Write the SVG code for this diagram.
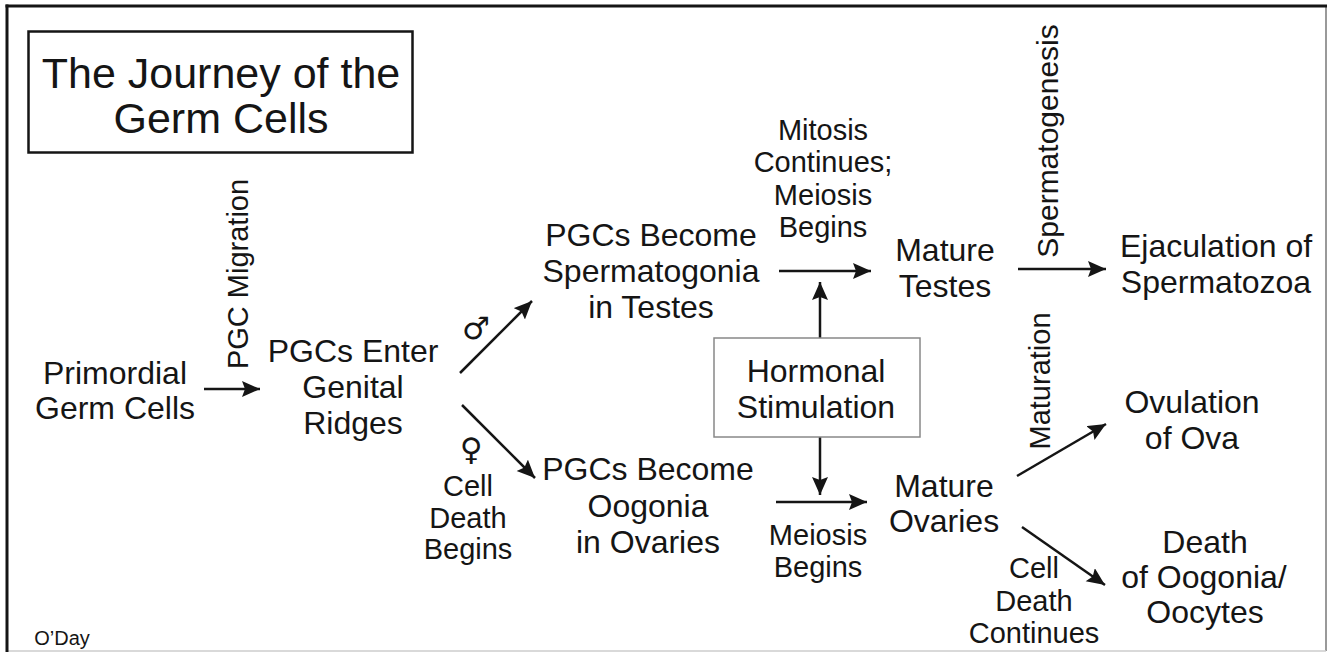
<svg xmlns="http://www.w3.org/2000/svg" width="1329" height="656" viewBox="0 0 1329 656">
<style>
  text { font-family: "Liberation Sans", Arial, sans-serif; fill: #151515; text-anchor: middle; }
  .n { font-size: 32px; }
  .s { font-size: 29px; }
  .v { font-size: 29px; }
  .t { font-size: 43px; }
  .sym { font-family: "DejaVu Sans", sans-serif; font-size: 31px; }
  .c { stroke: #151515; stroke-width: 2.5; fill: none; marker-end: url(#ah); }
</style>
<defs>
  <marker id="ah" markerUnits="userSpaceOnUse" markerWidth="20" markerHeight="18" refX="18" refY="8" orient="auto" viewBox="0 0 20 18">
    <path d="M0,0 L18,8 L0,16 L3,8 z" fill="#151515"/>
  </marker>
</defs>
<rect x="0" y="0" width="1329" height="656" fill="#ffffff"/>
<g id="frame">
  <line x1="1326" y1="6" x2="1326" y2="651" stroke="#777" stroke-width="1.5"/>
  <line x1="7" y1="651" x2="1326" y2="651" stroke="#ccc" stroke-width="1.5"/>
  <line x1="5.5" y1="6" x2="1327" y2="6" stroke="#151515" stroke-width="3"/>
  <line x1="7" y1="4.5" x2="7" y2="652" stroke="#151515" stroke-width="3"/>
</g>
<g id="title">
  <rect x="28.5" y="31.5" width="384" height="121" fill="none" stroke="#151515" stroke-width="2.5"/>
  <text class="t" x="221" y="88">The Journey of the</text>
  <text class="t" x="221" y="133">Germ Cells</text>
</g>
<g id="connectors">
  <line class="c" x1="204" y1="389" x2="260" y2="389"/>
  <line class="c" x1="460" y1="373" x2="532" y2="301"/>
  <line class="c" x1="462" y1="405" x2="535" y2="478"/>
  <line class="c" x1="779" y1="271" x2="871" y2="271"/>
  <line class="c" x1="820" y1="338" x2="820" y2="282"/>
  <line class="c" x1="820" y1="437" x2="820" y2="495"/>
  <line class="c" x1="776" y1="502" x2="867" y2="502"/>
  <line class="c" x1="1018" y1="269" x2="1106" y2="269"/>
  <line class="c" x1="1017" y1="476" x2="1106" y2="424"/>
  <line class="c" x1="1022" y1="527" x2="1105" y2="585"/>
</g>
<g id="labels">
  <text class="v" transform="translate(248,274) rotate(-90)">PGC Migration</text>
  <text class="sym" x="476" y="339">♂</text>
  <text class="sym" x="471" y="460">♀</text>
  <text class="s" x="468" y="496">Cell</text>
  <text class="s" x="468" y="528">Death</text>
  <text class="s" x="468" y="559">Begins</text>
  <text class="s" x="823" y="140">Mitosis</text>
  <text class="s" x="823" y="172">Continues;</text>
  <text class="s" x="823" y="205">Meiosis</text>
  <text class="s" x="823" y="237">Begins</text>
  <text class="s" x="818" y="545">Meiosis</text>
  <text class="s" x="818" y="577">Begins</text>
  <text class="v" transform="translate(1058,141) rotate(-90)" style="font-size:30px">Spermatogenesis</text>
  <text class="v" transform="translate(1050,381) rotate(-90)">Maturation</text>
  <text class="s" x="1034" y="578">Cell</text>
  <text class="s" x="1034" y="611">Death</text>
  <text class="s" x="1034" y="643">Continues</text>
  <text x="62" y="645" style="font-size:20px">O’Day</text>
</g>
<g id="primordial">
  <text class="n" x="115" y="384">Primordial</text>
  <text class="n" x="115" y="419">Germ Cells</text>
</g>
<g id="genital-ridges">
  <text class="n" x="353" y="362">PGCs Enter</text>
  <text class="n" x="353" y="398">Genital</text>
  <text class="n" x="353" y="434">Ridges</text>
</g>
<g id="spermatogonia">
  <text class="n" x="651" y="246">PGCs Become</text>
  <text class="n" x="651" y="282">Spermatogonia</text>
  <text class="n" x="651" y="318">in Testes</text>
</g>
<g id="oogonia">
  <text class="n" x="648" y="480">PGCs Become</text>
  <text class="n" x="648" y="517">Oogonia</text>
  <text class="n" x="648" y="553">in Ovaries</text>
</g>
<g id="hormonal">
  <rect x="714" y="338" width="206" height="99" fill="#fff" stroke="#888" stroke-width="1.5"/>
  <text class="n" x="816" y="382">Hormonal</text>
  <text class="n" x="816" y="418">Stimulation</text>
</g>
<g id="mature-testes">
  <text class="n" x="945" y="261">Mature</text>
  <text class="n" x="945" y="297">Testes</text>
</g>
<g id="mature-ovaries">
  <text class="n" x="944" y="497">Mature</text>
  <text class="n" x="944" y="532">Ovaries</text>
</g>
<g id="ejaculation">
  <text class="n" x="1216" y="257">Ejaculation of</text>
  <text class="n" x="1216" y="293">Spermatozoa</text>
</g>
<g id="ovulation">
  <text class="n" x="1192" y="413">Ovulation</text>
  <text class="n" x="1192" y="449">of Ova</text>
</g>
<g id="death-oogonia">
  <text class="n" x="1205" y="553">Death</text>
  <text class="n" x="1204" y="588">of Oogonia/</text>
  <text class="n" x="1205" y="623">Oocytes</text>
</g>
</svg>
